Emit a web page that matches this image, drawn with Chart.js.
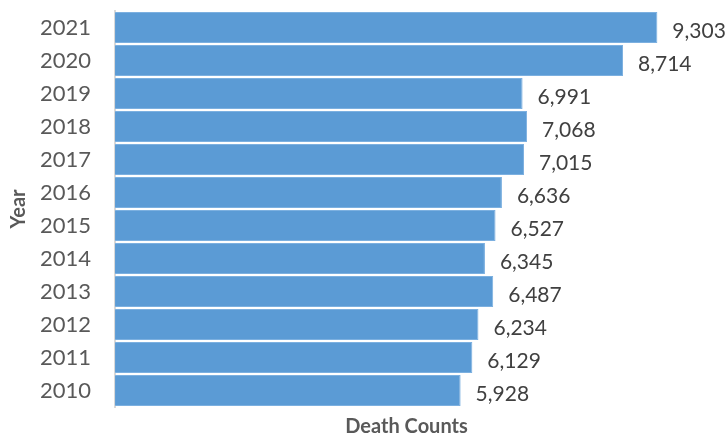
<!DOCTYPE html>
<html lang="en">
<head>
    <meta charset="UTF-8">
    <title>Death Counts by Year</title>
    <style>
        html, body { margin: 0; padding: 0; background: #fff; }
        #chart-container { width: 728px; height: 438px; }
    </style>
</head>
<body>
    <div id="chart-container">
        <canvas id="deathChart"></canvas>
    </div>
    <script src="https://cdn.jsdelivr.net/npm/chart.js"></script>
    <script>
        const years = ['2021', '2020', '2019', '2018', '2017', '2016', '2015', '2014', '2013', '2012', '2011', '2010'];
        const deathCounts = [9303, 8714, 6991, 7068, 7015, 6636, 6527, 6345, 6487, 6234, 6129, 5928];

        // draws the value to the right of each bar, a bit below centre
        const valueLabels = {
            id: 'valueLabels',
            afterDatasetsDraw(chart) {
                const ctx = chart.ctx;
                const meta = chart.getDatasetMeta(0);
                ctx.save();
                ctx.font = '21px Lato';
                ctx.fillStyle = '#404040';
                ctx.textAlign = 'left';
                ctx.textBaseline = 'middle';
                meta.data.forEach((bar, i) => {
                    ctx.fillText(deathCounts[i].toLocaleString('en-US'), bar.x + 15, bar.y + 4);
                });
                ctx.restore();
            }
        };

        const ctx = document.getElementById('deathChart').getContext('2d');
        new Chart(ctx, {
            type: 'bar',
            data: {
                labels: years,
                datasets: [{
                    data: deathCounts,
                    backgroundColor: '#5b9bd5',
                    borderColor: '#7cb0e0',
                    borderWidth: 1,
                    barPercentage: 0.94,
                    categoryPercentage: 1
                }]
            },
            options: {
                indexAxis: 'y',
                responsive: true,
                maintainAspectRatio: false,
                animation: false,
                layout: { padding: { left: 1, right: 30, top: 11, bottom: 0 } },
                plugins: {
                    legend: { display: false },
                    tooltip: { enabled: false }
                },
                scales: {
                    x: {
                        min: 0,
                        max: 10000,
                        grid: { display: false, drawTicks: false },
                        border: { display: false },
                        ticks: { display: false },
                        title: {
                            display: true,
                            text: 'Death Counts',
                            color: '#595959',
                            font: { family: 'Lato', size: 20, weight: 'bold', lineHeight: 1.1 },
                            padding: { top: 9, bottom: 0 }
                        }
                    },
                    y: {
                        grid: { display: false, drawTicks: false },
                        border: { display: true, color: '#d9d9d9', width: 2 },
                        ticks: {
                            color: '#595959',
                            font: { family: 'Lato', size: 22 },
                            padding: 24
                        },
                        title: {
                            display: true,
                            text: 'Year',
                            color: '#595959',
                            font: { family: 'Lato', size: 20, weight: 'bold' },
                            padding: { top: 6, bottom: 12 }
                        },
                        // tick padding is counted twice in the width and pushes the plot down
                        afterFit(scale) {
                            scale.width -= 27;
                            scale.paddingTop = 0;
                            scale.paddingBottom = 0;
                        }
                    }
                }
            },
            plugins: [valueLabels]
        });
    </script>
</body>
</html>
